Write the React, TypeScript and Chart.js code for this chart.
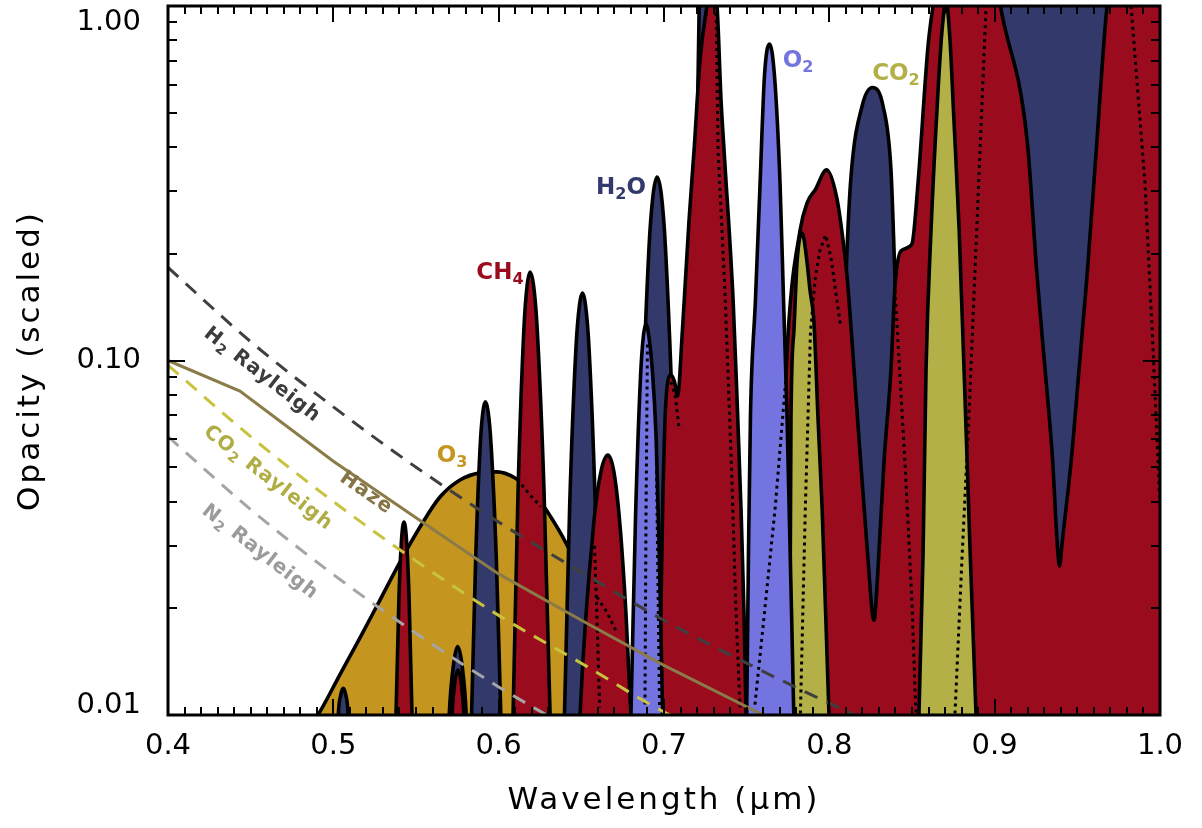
import React, { useEffect, useRef } from 'react';
import { Chart, registerables } from 'chart.js';

Chart.register(...registerables);

const FONT = '"DejaVu Sans", "Liberation Sans", sans-serif';

// ---------- axis ticks ----------
const xTickValues = [0.4, 0.5, 0.6, 0.7, 0.8, 0.9, 1.0];
const xTickLabels = ['0.4', '0.5', '0.6', '0.7', '0.8', '0.9', '1.0'];
const yTickValues = [0.01, 0.1, 1.0];
const yTickLabels = ['0.01', '0.10', '1.00'];
const xTitle = 'Wavelength (\u03bcm)';
const yTitle = 'Opacity (scaled)';

// ---------- O3 ----------
const o3Wl = [
  0.400, 0.4800, 0.4907, 0.5040, 0.5161, 0.5282, 0.5403, 0.5524,
  0.5645, 0.5766, 0.5887, 0.5990, 0.6099, 0.6220, 0.6292, 0.6413,
  0.6550, 0.6700, 0.6800, 0.6900, 0.7000, 1.000,
];
const o3Val = [
  0.003, 0.0085, 0.0100, 0.0130, 0.0165, 0.0211, 0.0270, 0.0339,
  0.0412, 0.0460, 0.0482, 0.0485, 0.0466, 0.0418, 0.0376, 0.0302,
  0.0220, 0.0155, 0.0120, 0.0080, 0.0040, 0.003,
];

// ---------- H2O ----------
const h2oWl = [
  0.400, 0.4990, 0.5015, 0.5030, 0.5045, 0.5060, 0.5075, 0.5090,
  0.5105, 0.5130, 0.5650, 0.5680, 0.5701, 0.5727, 0.5752, 0.5778,
  0.5804, 0.5820, 0.5836, 0.5861, 0.5889, 0.5905, 0.5919, 0.5936,
  0.5954, 0.5986, 0.6013, 0.6038, 0.6371, 0.6398, 0.6430, 0.6468,
  0.6489, 0.6507, 0.6525, 0.6546, 0.6584, 0.6616, 0.6649, 0.6795,
  0.6825, 0.6864, 0.6909, 0.6934, 0.6958, 0.6984, 0.7009, 0.7057,
  0.7100, 0.7130, 0.7160, 0.7190, 0.7212, 0.7235, 0.7260, 0.7290,
  0.7340, 0.7380, 0.8000, 0.8040, 0.8077, 0.8105, 0.8131, 0.8198,
  0.8261, 0.8325, 0.8373, 0.8397, 0.8428, 0.8464, 0.8520, 0.8800,
  0.9000, 0.9150, 0.9400, 0.9600, 0.9750, 0.9900, 1.0000,
];
const h2oVal = [
  0.003, 0.003, 0.006, 0.010, 0.0114, 0.0119, 0.0114, 0.010,
  0.006, 0.003, 0.003, 0.005, 0.010, 0.0139, 0.0156, 0.0139,
  0.010, 0.006, 0.010, 0.0277, 0.0584, 0.0719, 0.0765, 0.0719,
  0.058, 0.0275, 0.010, 0.004, 0.004, 0.010, 0.0396, 0.1096,
  0.1437, 0.155, 0.1437, 0.1096, 0.0396, 0.010, 0.004, 0.004,
  0.010, 0.0581, 0.2075, 0.2934, 0.3294, 0.2934, 0.2075, 0.0581,
  0.010, 0.006, 0.020, 0.200, 0.95, 2.50, 1.00, 0.200,
  0.020, 0.004, 0.004, 0.010, 0.0774, 0.1945, 0.330, 0.522,
  0.589, 0.522, 0.344, 0.173, 0.0774, 0.010, 0.004, 0.050,
  1.50, 5.0, 8.0, 5.0, 1.50, 0.20, 0.10,
];

// ---------- CH4 ----------
const ch4Wl = [
  0.400, 0.5361, 0.5379, 0.5397, 0.5412, 0.5427, 0.5443, 0.5458,
  0.5476, 0.5494, 0.5680, 0.5700, 0.5718, 0.5736, 0.5754, 0.5772,
  0.5790, 0.5809, 0.5830, 0.6040, 0.6063, 0.6087, 0.6117, 0.6153,
  0.6172, 0.6190, 0.6211, 0.6232, 0.6274, 0.6311, 0.6341, 0.6462,
  0.6492, 0.6577, 0.6619, 0.6661, 0.6698, 0.6734, 0.6770, 0.6800,
  0.6831, 0.6945, 0.6970, 0.6992, 0.7012, 0.7042, 0.7064, 0.7082,
  0.7112, 0.7151, 0.7182, 0.7218, 0.7260, 0.7290, 0.7321, 0.7345,
  0.7363, 0.7418, 0.7442, 0.7466, 0.7484, 0.7496, 0.7514, 0.7600,
  0.7680, 0.7720, 0.7750, 0.7823, 0.7865, 0.7916, 0.7984, 0.8046,
  0.8089, 0.8107, 0.8169, 0.8231, 0.8270, 0.8292, 0.8331, 0.8373,
  0.8397, 0.8434, 0.8499, 0.8536, 0.8597, 0.8627, 0.8700, 0.8850,
  0.8970, 0.9035, 0.9196, 0.9256, 0.9305, 0.9350, 0.9377, 0.9392,
  0.9410, 0.9464, 0.9510, 0.9559, 0.9619, 0.9680, 0.9800, 1.0000,
];
const ch4Val = [
  0.003, 0.003, 0.010, 0.0215, 0.031, 0.035, 0.031, 0.0215,
  0.010, 0.003, 0.003, 0.006, 0.010, 0.0125, 0.0134, 0.0125,
  0.010, 0.006, 0.003, 0.003, 0.004, 0.010, 0.0423, 0.124,
  0.1626, 0.1777, 0.163, 0.125, 0.0434, 0.010, 0.004, 0.004,
  0.010, 0.0355, 0.0487, 0.0541, 0.0482, 0.0342, 0.0193, 0.010,
  0.004, 0.004, 0.010, 0.0386, 0.0774, 0.091, 0.087, 0.0794,
  0.123, 0.247, 0.393, 0.705, 1.00, 1.19, 1.00, 0.543,
  0.393, 0.148, 0.0774, 0.0379, 0.0194, 0.010, 0.004, 0.004,
  0.020, 0.055, 0.118, 0.233, 0.278, 0.304, 0.345, 0.286,
  0.207, 0.173, 0.0702, 0.0286, 0.0185, 0.0247, 0.052, 0.0946,
  0.162, 0.204, 0.213, 0.315, 0.771, 1.00, 1.60, 2.20,
  1.60, 1.00, 0.419, 0.174, 0.094, 0.0527, 0.0312, 0.0263,
  0.0312, 0.0527, 0.094, 0.174, 0.419, 1.00, 1.80, 2.50,
];

// ---------- CO2 ----------
const co2Wl = [
  0.400, 0.7720, 0.7759, 0.7768, 0.7786, 0.7805, 0.7835, 0.7865,
  0.7883, 0.7907, 0.7932, 0.7956, 0.7977, 0.7998, 0.8016, 0.8050,
  0.8505, 0.8542, 0.8567, 0.8585, 0.8615, 0.8657, 0.8682, 0.8706,
  0.8730, 0.8752, 0.8785, 0.8833, 0.8887, 0.8924, 0.9000, 1.000,
];
const co2Val = [
  0.003, 0.003, 0.010, 0.0679, 0.1219, 0.190, 0.229, 0.190,
  0.158, 0.128, 0.0679, 0.0386, 0.0198, 0.010, 0.0058, 0.003,
  0.004, 0.010, 0.0286, 0.0946, 0.233, 0.571, 0.856, 1.03,
  0.800, 0.494, 0.235, 0.0527, 0.0101, 0.0058, 0.003, 0.003,
];

// ---------- O2 ----------
const o2Wl = [
  0.400, 0.6770, 0.6800, 0.6828, 0.6858, 0.6876, 0.6891, 0.6909,
  0.6927, 0.6952, 0.6970, 0.6992, 0.7010, 0.7470, 0.7500, 0.7511,
  0.7523, 0.7553, 0.7581, 0.7608, 0.7638, 0.7668, 0.7702, 0.7723,
  0.7744, 0.7785, 0.7810, 1.000,
];
const o2Val = [
  0.003, 0.003, 0.010, 0.0365, 0.0901, 0.118, 0.1268, 0.1165,
  0.0971, 0.0612, 0.0305, 0.010, 0.003, 0.003, 0.010, 0.029,
  0.0702, 0.148, 0.315, 0.638, 0.781, 0.638, 0.315, 0.148,
  0.0702, 0.010, 0.003, 0.003,
];

// ---------- dotted comparison curve (null = gap) ----------
const dotWl = [
  0.6139, 0.6196, 0.6254, null,
  0.6580, 0.6595, 0.6611, null,
  0.6595, 0.6655, 0.6716, null,
  0.6885, 0.6891, 0.6900, null,
  0.6955, 0.6964, 0.6973, null,
  0.7042, 0.7067, 0.7091, null,
  0.7315, 0.7327, 0.7369, 0.7409, 0.7436, 0.7460, null,
  0.7550, 0.7602, 0.7673, 0.7742, null,
  0.7825, 0.7855, 0.7886, 0.7916, 0.7944, 0.7978, 0.8010, 0.8046, 0.8069, null,
  0.8397, 0.8457, 0.8499, 0.8524, null,
  0.8760, 0.8802, 0.8845, 0.8899, 0.8948, null,
  0.9825, 0.9909, 0.9958, 1.0000,
];
const dotVal = [
  0.0446, 0.0415, 0.0387, null,
  0.0300, 0.0185, 0.0105, null,
  0.0215, 0.0195, 0.0170, null,
  0.0107, 0.0355, 0.113, null,
  0.0488, 0.0225, 0.0105, null,
  0.087, 0.080, 0.0645, null,
  1.00, 0.393, 0.155, 0.0488, 0.0193, 0.0105, null,
  0.0107, 0.0183, 0.0386, 0.0946, null,
  0.0101, 0.0386, 0.1203, 0.173, 0.205, 0.226, 0.1945, 0.148, 0.1243, null,
  0.158, 0.052, 0.0212, 0.010, null,
  0.0101, 0.0274, 0.0711, 0.284, 1.00, null,
  1.00, 0.317, 0.1078, 0.039,
];

// ---------- Rayleigh & haze ----------
const rayWl = [0.40, 0.45, 0.50, 0.55, 0.60, 0.65, 0.70, 0.75, 0.80, 0.85];
const h2Ray = [0.183, 0.113, 0.074, 0.050, 0.035, 0.0253, 0.0185, 0.0140, 0.0108, 0.0085];
const co2Ray = [0.097, 0.061, 0.040, 0.0272, 0.0191, 0.0140, 0.0102, 0.0080, null, null];
const n2Ray = [0.061, 0.038, 0.0249, 0.0170, 0.0120, 0.0088, null, null, null, null];
const hazeWl = [0.40, 0.4435, 0.50, 0.55, 0.60, 0.65, 0.70, 0.76, 0.78];
const hazeVal = [0.100, 0.082, 0.052, 0.036, 0.025, 0.0185, 0.0138, 0.0100, 0.0092];

// ---------- annotation texts ----------
type Part = { t: string; sub?: boolean };
const moleculeLabels: { parts: Part[]; wl: number; val: number; color: string }[] = [
  { parts: [{ t: 'CH' }, { t: '4', sub: true }], wl: 0.6008, val: 0.1766, color: '#9a0b1d' },
  { parts: [{ t: 'H' }, { t: '2', sub: true }, { t: 'O' }], wl: 0.6740, val: 0.3067, color: '#33396b' },
  { parts: [{ t: 'O' }, { t: '2', sub: true }], wl: 0.7811, val: 0.6997, color: '#7474e0' },
  { parts: [{ t: 'CO' }, { t: '2', sub: true }], wl: 0.8403, val: 0.643, color: '#b3b047' },
  { parts: [{ t: 'O' }, { t: '3', sub: true }], wl: 0.5718, val: 0.0538, color: '#c4961f' },
];
const lineLabels: { parts: Part[]; wl: number; val: number; color: string; angle: number }[] = [
  { parts: [{ t: 'H' }, { t: '2', sub: true }, { t: ' Rayleigh' }], wl: 0.4569, val: 0.091, color: '#3c3c3c', angle: 38 },
  { parts: [{ t: 'CO' }, { t: '2', sub: true }, { t: ' Rayleigh' }], wl: 0.4605, val: 0.0466, color: '#b0ad45', angle: 38 },
  { parts: [{ t: 'N' }, { t: '2', sub: true }, { t: ' Rayleigh' }], wl: 0.4556, val: 0.0288, color: '#9b9b9b', angle: 38 },
  { parts: [{ t: 'Haze' }], wl: 0.5198, val: 0.0423, color: '#857545', angle: 35 },
];

const pts = (xs: (number | null)[], ys: (number | null)[]) =>
  xs.map((x, i) => ({ x: x as number, y: ys[i] as number }));

function drawParts(
  ctx: CanvasRenderingContext2D,
  parts: Part[],
  cx: number,
  cy: number,
  size: number,
  color: string,
  weight: string,
  spacing: number
) {
  ctx.save();
  ctx.fillStyle = color;
  ctx.textBaseline = 'middle';
  ctx.textAlign = 'left';
  (ctx as any).letterSpacing = spacing + 'px';
  const fontFor = (p: Part) => `${weight} ${p.sub ? Math.round(size * 0.68) : size}px ${FONT}`;
  const widths = parts.map((p) => {
    ctx.font = fontFor(p);
    return ctx.measureText(p.t).width;
  });
  const total = widths.reduce((a, b) => a + b, 0);
  let x = cx - total / 2;
  parts.forEach((p, i) => {
    ctx.font = fontFor(p);
    ctx.fillText(p.t, x, p.sub ? cy + size * 0.3 : cy);
    x += widths[i];
  });
  ctx.restore();
}

const idlPlugin = {
  id: 'idlFrame',
  afterDraw(chart: any) {
    const { ctx, chartArea: a } = chart;
    const xs = chart.scales.x;
    const ys = chart.scales.y;
    ctx.save();

    // annotation labels
    moleculeLabels.forEach((l) => {
      drawParts(ctx, l.parts, xs.getPixelForValue(l.wl), ys.getPixelForValue(l.val), 23, l.color, 'bold', 0);
    });
    lineLabels.forEach((l) => {
      ctx.save();
      ctx.translate(xs.getPixelForValue(l.wl), ys.getPixelForValue(l.val));
      ctx.rotate((l.angle * Math.PI) / 180);
      drawParts(ctx, l.parts, 0, 0, 20, l.color, 'bold', 1);
      ctx.restore();
    });

    // ticks
    ctx.strokeStyle = '#000';
    ctx.lineWidth = 2;
    ctx.beginPath();
    for (let i = 0; i <= 60; i++) {
      const px = Math.round(xs.getPixelForValue(0.4 + i * 0.01));
      const len = i % 10 === 0 ? 16 : 8;
      ctx.moveTo(px, a.bottom);
      ctx.lineTo(px, a.bottom - len);
      ctx.moveTo(px, a.top);
      ctx.lineTo(px, a.top + len);
    }
    const yMinor: { v: number; major: boolean }[] = [];
    [0.01, 0.1].forEach((d) => {
      for (let k = 1; k <= 9; k++) yMinor.push({ v: k * d, major: k === 1 });
    });
    yMinor.push({ v: 1.0, major: true });
    yMinor.forEach(({ v, major }) => {
      const py = Math.round(ys.getPixelForValue(v));
      const len = major ? 17 : 9;
      ctx.moveTo(a.left, py);
      ctx.lineTo(a.left + len, py);
      ctx.moveTo(a.right, py);
      ctx.lineTo(a.right - len, py);
    });
    ctx.stroke();

    // frame
    ctx.lineWidth = 3;
    ctx.strokeRect(a.left, a.top, a.right - a.left, a.bottom - a.top);

    // tick labels
    ctx.fillStyle = '#000';
    ctx.font = `29px ${FONT}`;
    ctx.textAlign = 'center';
    ctx.textBaseline = 'middle';
    xTickValues.forEach((v, i) => {
      ctx.fillText(xTickLabels[i], xs.getPixelForValue(v), a.bottom + 31);
    });
    ctx.textAlign = 'right';
    yTickValues.forEach((v, i) => {
      const py = Math.min(Math.max(ys.getPixelForValue(v), a.top + 16), a.bottom - 10);
      ctx.fillText(yTickLabels[i], a.left - 27, py);
    });

    // axis titles
    (ctx as any).letterSpacing = '3px';
    ctx.font = `31px ${FONT}`;
    ctx.textAlign = 'center';
    ctx.fillText(xTitle, (a.left + a.right) / 2, a.bottom + 86);
    ctx.save();
    ctx.translate(31, (a.top + a.bottom) / 2);
    ctx.rotate(-Math.PI / 2);
    ctx.fillText(yTitle, 0, 0);
    ctx.restore();
    (ctx as any).letterSpacing = '0px';

    ctx.restore();
  },
};

export default function App() {
  const ref = useRef<HTMLCanvasElement | null>(null);

  useEffect(() => {
    if (!ref.current) return;
    const fillDs = (label: string, xs: number[], ys: number[], color: string, order: number) => ({
      label,
      data: pts(xs, ys),
      order,
      borderColor: '#000',
      borderWidth: 3.6,
      backgroundColor: color,
      fill: 'start',
      pointRadius: 0,
      cubicInterpolationMode: 'monotone',
      borderJoinStyle: 'round',
    });
    const lineDs = (label: string, xs: (number | null)[], ys: (number | null)[], color: string, dash: number[], order: number, width = 3) => ({
      label,
      data: pts(xs, ys),
      order,
      borderColor: color,
      borderWidth: width,
      borderDash: dash,
      fill: false,
      pointRadius: 0,
      cubicInterpolationMode: 'monotone',
    });

    const chart = new Chart(ref.current, {
      type: 'line',
      data: {
        datasets: [
          lineDs('H2 Rayleigh', rayWl, h2Ray, '#3f3f3f', [14, 10], 0),
          lineDs('CO2 Rayleigh', rayWl, co2Ray, '#c7c33f', [14, 10], 0),
          lineDs('N2 Rayleigh', rayWl, n2Ray, '#a5a5a5', [14, 10], 0),
          { ...lineDs('Haze', hazeWl, hazeVal, '#8a7b48', [], 0), tension: 0, cubicInterpolationMode: 'default' },
          { ...lineDs('dotted', dotWl, dotVal, '#000', [3, 4], 1, 3), tension: 0, cubicInterpolationMode: 'default', spanGaps: false },
          fillDs('O2', o2Wl, o2Val, '#7474e0', 2),
          fillDs('CO2', co2Wl, co2Val, '#b3b047', 3),
          fillDs('CH4', ch4Wl, ch4Val, '#9a0b1d', 4),
          fillDs('H2O', h2oWl, h2oVal, '#33396b', 5),
          fillDs('O3', o3Wl, o3Val, '#c4961f', 6),
        ] as any,
      },
      options: {
        responsive: false,
        animation: false,
        devicePixelRatio: 1,
        events: [],
        layout: { padding: { left: 0, right: 42, top: 6, bottom: 0 } },
        plugins: {
          legend: { display: false },
          tooltip: { enabled: false },
        },
        scales: {
          x: {
            type: 'linear',
            min: 0.4,
            max: 1.0,
            grid: { display: false },
            border: { display: false },
            ticks: { display: false },
            afterFit: (s: any) => {
              s.height = 113;
            },
          },
          y: {
            type: 'logarithmic',
            min: 0.01,
            max: 1.0,
            grid: { display: false },
            border: { display: false },
            ticks: { display: false },
            afterFit: (s: any) => {
              s.width = 168;
            },
          },
        },
      } as any,
      plugins: [idlPlugin],
    });
    return () => chart.destroy();
  }, []);

  return (
    <div style={{ position: 'absolute', left: 0, top: 0, width: 1202, height: 828, background: '#fff' }}>
      <canvas ref={ref} width={1202} height={828} style={{ display: 'block', width: 1202, height: 828 }} />
    </div>
  );
}
